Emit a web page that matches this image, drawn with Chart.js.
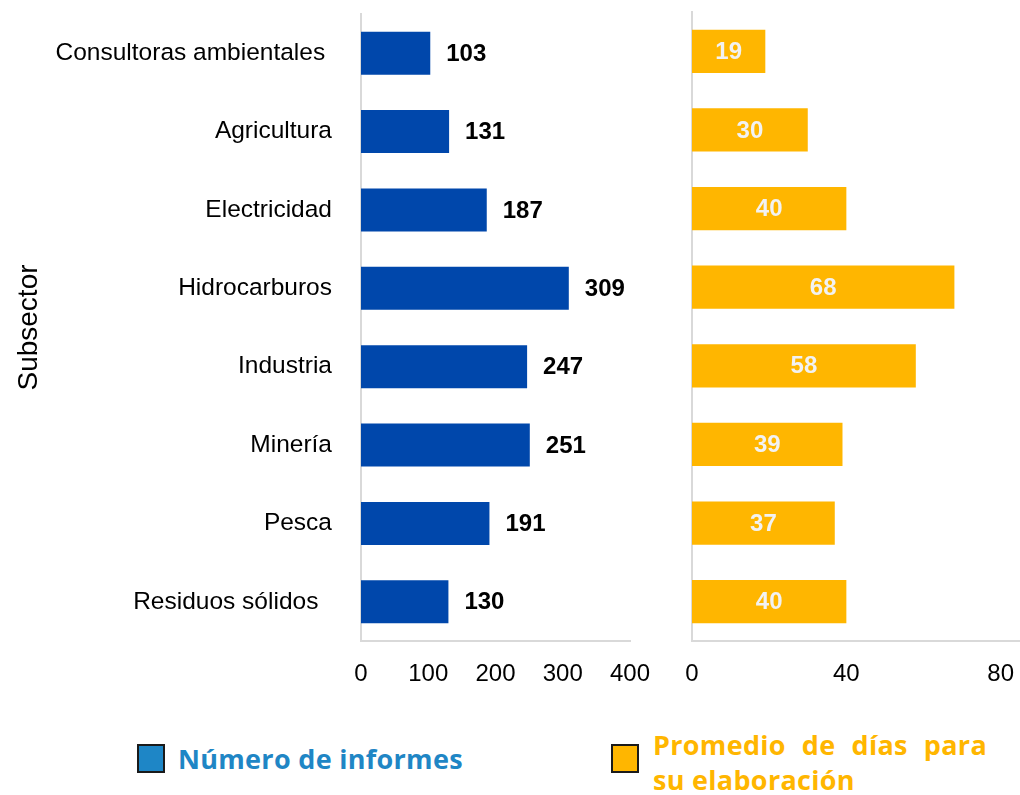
<!DOCTYPE html>
<html>
<head>
<meta charset="utf-8">
<script src="https://cdn.jsdelivr.net/npm/chart.js@4/dist/chart.umd.min.js"></script>
<style>
  body { margin: 0; background: #fff; width: 1020px; height: 795px; position: relative; overflow: hidden; }
  #leftBox { position: absolute; left: 0; top: 0; }
  #rightBox { position: absolute; left: 660px; top: 0; }
  .legend { position: absolute; font-family: "Open Sans", Lato, sans-serif; font-weight: 700; font-size: 27px; letter-spacing: 0.3px; line-height: 35px; white-space: nowrap; }
  .swatch { position: absolute; width: 24px; height: 25px; border: 2px solid #1a1a1a; }
  #legBlue { left: 178px; top: 741px; color: #1f86c5; }
  #legOrange { left: 653px; top: 727px; color: #ffb600; width: 334px; }
  #legOrange .l1 { text-align: justify; text-align-last: justify; }
</style>
</head>
<body>
<div id="leftBox"><canvas id="leftChart" width="655" height="700"></canvas></div>
<div id="rightBox"><canvas id="rightChart" width="360" height="700"></canvas></div>

<div class="swatch" style="left:137px; top:744px; background:#1e86c6;"></div>
<div class="legend" id="legBlue">Número de informes</div>
<div class="swatch" style="left:611px; top:744px; background:#ffb600;"></div>
<div class="legend" id="legOrange"><div class="l1">Promedio de días para</div><div>su elaboración</div></div>

<script>
// Subsectors (trailing spaces keep the original label offsets)
const subsectors = ["Consultoras ambientales ", "Agricultura", "Electricidad", "Hidrocarburos", "Industria", "Minería", "Pesca", "Residuos sólidos  "];
const numInformes = [103, 131, 187, 309, 247, 251, 191, 130];
const promedioDias = [19, 30, 40, 68, 58, 39, 37, 40];

const leftTicks = [0, 100, 200, 300, 400];
const rightTicks = [0, 40, 80];

const FONT = "'Liberation Sans', Arial, sans-serif";
const axisGray = "#d9d9d9";

// draws value labels next to / inside each bar
const valueLabels = {
  id: "valueLabels",
  afterDatasetsDraw(chart, args, opts) {
    const ctx = chart.ctx;
    const meta = chart.getDatasetMeta(0);
    const values = chart.data.datasets[0].data;
    ctx.save();
    ctx.font = "bold 24px " + FONT;
    ctx.fillStyle = opts.color;
    ctx.textBaseline = "middle";
    meta.data.forEach((bar, i) => {
      if (opts.inside) {
        ctx.textAlign = "center";
        ctx.fillText(values[i], (bar.x + bar.base) / 2, bar.y + 1);
      } else {
        ctx.textAlign = "left";
        ctx.fillText(values[i], bar.x + 16, bar.y + 1);
      }
    });
    ctx.restore();
  }
};

function noPad(s) {
  s.paddingTop = 0; s.paddingBottom = 0; s.paddingLeft = 0; s.paddingRight = 0;
}

function baseOptions() {
  return {
    indexAxis: "y",
    responsive: false,
    animation: false,
    plugins: { legend: { display: false }, tooltip: { enabled: false } },
    datasets: { bar: { barPercentage: 0.55, categoryPercentage: 1 } }
  };
}

const leftOpts = baseOptions();
leftOpts.layout = { padding: { top: 14, right: 25, left: 0, bottom: 0 } };
leftOpts.plugins.valueLabels = { color: "#000", inside: false };
leftOpts.scales = {
  x: {
    min: 0, max: 400,
    afterFit: s => { s.height = 59; noPad(s); },
    afterBuildTicks: s => { s.ticks = leftTicks.map(v => ({ value: v })); },
    grid: { display: false },
    border: { color: axisGray, width: 2 },
    ticks: { color: "#000", font: { family: FONT, size: 24 }, padding: 11 }
  },
  y: {
    afterFit: s => { s.width = 361; noPad(s); },
    grid: { display: false },
    border: { color: axisGray, width: 2 },
    ticks: { color: "#000", font: { family: FONT, size: 24.5 }, padding: 21 },
    title: { display: true, text: "Subsector", color: "#000", font: { family: FONT, size: 28 }, padding: { top: 12, bottom: 0 } }
  }
};

new Chart(document.getElementById("leftChart"), {
  type: "bar",
  data: { labels: subsectors, datasets: [{ label: "Número de informes", data: numInformes, backgroundColor: "#0047ab" }] },
  options: leftOpts,
  plugins: [valueLabels]
});

const rightOpts = baseOptions();
rightOpts.layout = { padding: { top: 12, right: 0, left: 0, bottom: 0 } };
rightOpts.plugins.valueLabels = { color: "#f2f2f2", inside: true };
rightOpts.scales = {
  x: {
    min: 0, max: 85,
    afterFit: s => { s.height = 59; noPad(s); },
    afterBuildTicks: s => { s.ticks = rightTicks.map(v => ({ value: v })); },
    grid: { display: false },
    border: { color: axisGray, width: 2 },
    ticks: { color: "#000", font: { family: FONT, size: 24 }, padding: 11 }
  },
  y: {
    afterFit: s => { s.width = 32; noPad(s); },
    grid: { display: false },
    border: { color: axisGray, width: 2 },
    ticks: { display: false }
  }
};

new Chart(document.getElementById("rightChart"), {
  type: "bar",
  data: { labels: subsectors, datasets: [{ label: "Promedio de días para su elaboración", data: promedioDias, backgroundColor: "#ffb600" }] },
  options: rightOpts,
  plugins: [valueLabels]
});
</script>
</body>
</html>
